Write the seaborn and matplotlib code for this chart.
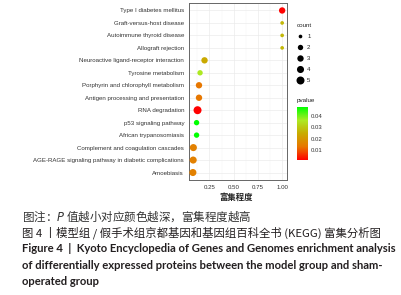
import numpy as np
import pandas as pd
import matplotlib
matplotlib.use("Agg")
import matplotlib.pyplot as plt
import seaborn as sns
from matplotlib.colors import LinearSegmentedColormap, Normalize
from matplotlib.cm import ScalarMappable
from matplotlib.lines import Line2D

terms = ["Type I diabetes mellitus", "Graft-versus-host disease", "Autoimmune thyroid disease",
         "Allograft rejection", "Neuroactive ligand-receptor interaction", "Tyrosine metabolism",
         "Porphyrin and chlorophyll metabolism", "Antigen processing and presentation",
         "RNA degradation", "p53 signaling pathway", "African trypanosomiasis",
         "Complement and coagulation cascades",
         "AGE-RAGE signaling pathway in diabetic complications", "Amoebiasis"]
rich = [1.0, 1.0, 1.0, 1.0, 0.20, 0.154, 0.143, 0.143, 0.128, 0.118, 0.118, 0.085, 0.083, 0.080]
counts = [3, 1, 1, 1, 3, 2, 3, 3, 5, 2, 2, 4, 4, 4]
pvals = [0.0012, 0.027, 0.027, 0.027, 0.024, 0.036, 0.013, 0.013, 0.0010, 0.048, 0.048, 0.015, 0.015, 0.015]

count_levels = [1, 2, 3, 4, 5]
pv_ticks = [0.01, 0.02, 0.03, 0.04]

df = pd.DataFrame({"term": terms, "rich": rich, "count": counts, "pvalue": pvals})

# red -> green, interpolated in Lab like ggplot
cmap = LinearSegmentedColormap.from_list(
    "rg", [(0, "#FF0000"), (0.25, "#E87600"), (0.5, "#C9AB00"), (0.75, "#ACEA23"), (1, "#00FF00")])
norm = Normalize(min(pvals), max(pvals))
size_map = {1: 7, 2: 15, 3: 21, 4: 26, 5: 33}

sns.set_style("white")
plt.rcParams["font.family"] = ["Liberation Sans", "Noto Sans CJK SC", "DejaVu Sans"]

fig = plt.figure(figsize=(4.01, 2.95), dpi=100)
ax = fig.add_axes([189 / 401, 1 - 180 / 295, 98 / 401, 177 / 295])

sns.scatterplot(data=df, x="rich", y="term", hue="pvalue", palette=cmap, hue_norm=norm,
                size="count", sizes=size_map, legend=False, linewidth=0, ax=ax, zorder=3)

ax.set_xlim(0.04, 1.05)
ax.set_ylim(len(terms) - 0.4, -0.6)
ax.set_xticks([0.25, 0.5, 0.75, 1.0])
ax.set_xticklabels(["0.25", "0.50", "0.75", "1.00"])
ax.set_xticks([0.125, 0.375, 0.625, 0.875], minor=True)
ax.grid(True, which="major", color="#EBEBEB", lw=0.5, zorder=0)
ax.grid(True, which="minor", axis="x", color="#F2F2F2", lw=0.3, zorder=0)
ax.tick_params(axis="both", which="major", length=2, width=0.4, color="#444",
               labelsize=4.4, labelcolor="#333", pad=1.5)
ax.tick_params(axis="both", which="minor", length=0)
for s in ax.spines.values():
    s.set_color("#666")
    s.set_linewidth(0.7)
ax.set_ylabel("")
ax.set_xlabel("")
fig.text(236 / 401, 1 - 197 / 295, "富集程度", ha="center", va="center", fontsize=6,
         fontweight="bold", family=["Noto Sans CJK SC"], color="#222")

# count legend
handles = [Line2D([], [], marker="o", ls="", color="black", markeredgewidth=0,
                  markersize=np.sqrt(size_map[c])) for c in count_levels]
leg = fig.legend(handles, [str(c) for c in count_levels], title="count", loc="upper left",
                 bbox_to_anchor=(294 / 401, 1 - 21 / 295), frameon=False, fontsize=4.3,
                 title_fontsize=4.5, labelspacing=0.95, handletextpad=0.6, handlelength=1.2,
                 borderaxespad=0)
leg._legend_box.align = "left"

# pvalue colorbar
cax = fig.add_axes([297 / 401, 1 - 160 / 295, 11 / 401, 53 / 295])
cb = fig.colorbar(ScalarMappable(norm=norm, cmap=cmap), cax=cax, ticks=pv_ticks)
cb.outline.set_visible(False)
cax.tick_params(length=2, width=0.4, color="white", direction="in", labelsize=4.3,
                labelcolor="#333", pad=2)
cax.yaxis.set_ticks_position("both")
cax.tick_params(labelleft=False, labelright=True)
fig.text(297 / 401, 1 - 101 / 295, "pvalue", ha="left", va="center", fontsize=4.5, color="#222")

# caption
cap = "#231F20"
fig.text(22 / 401, 1 - 216 / 295, "图注：$\\it{P}$ 值越小对应颜色越深，富集程度越高", fontsize=8.3,
         family=["Noto Sans CJK SC", "DejaVu Sans"], color="#333", va="center")
fig.text(22 / 401, 1 - 232.5 / 295, "图 4 丨模型组 / 假手术组京都基因和基因组百科全书 (KEGG) 富集分析图",
         fontsize=8.2, family=["Noto Sans CJK SC", "DejaVu Sans"], color=cap, va="center",
         fontweight="medium")
en = ["Figure 4  |  Kyoto Encyclopedia of Genes and Genomes enrichment analysis",
      "of differentially expressed proteins between the model group and sham-",
      "operated group"]
for i, line in enumerate(en):
    fig.text(22 / 401, 1 - (249 + 16.2 * i) / 295, line, fontsize=8.1, family=["Lato"],
             fontweight="bold", color=cap, va="center")

fig.savefig("out.png", dpi=100, facecolor="white")
